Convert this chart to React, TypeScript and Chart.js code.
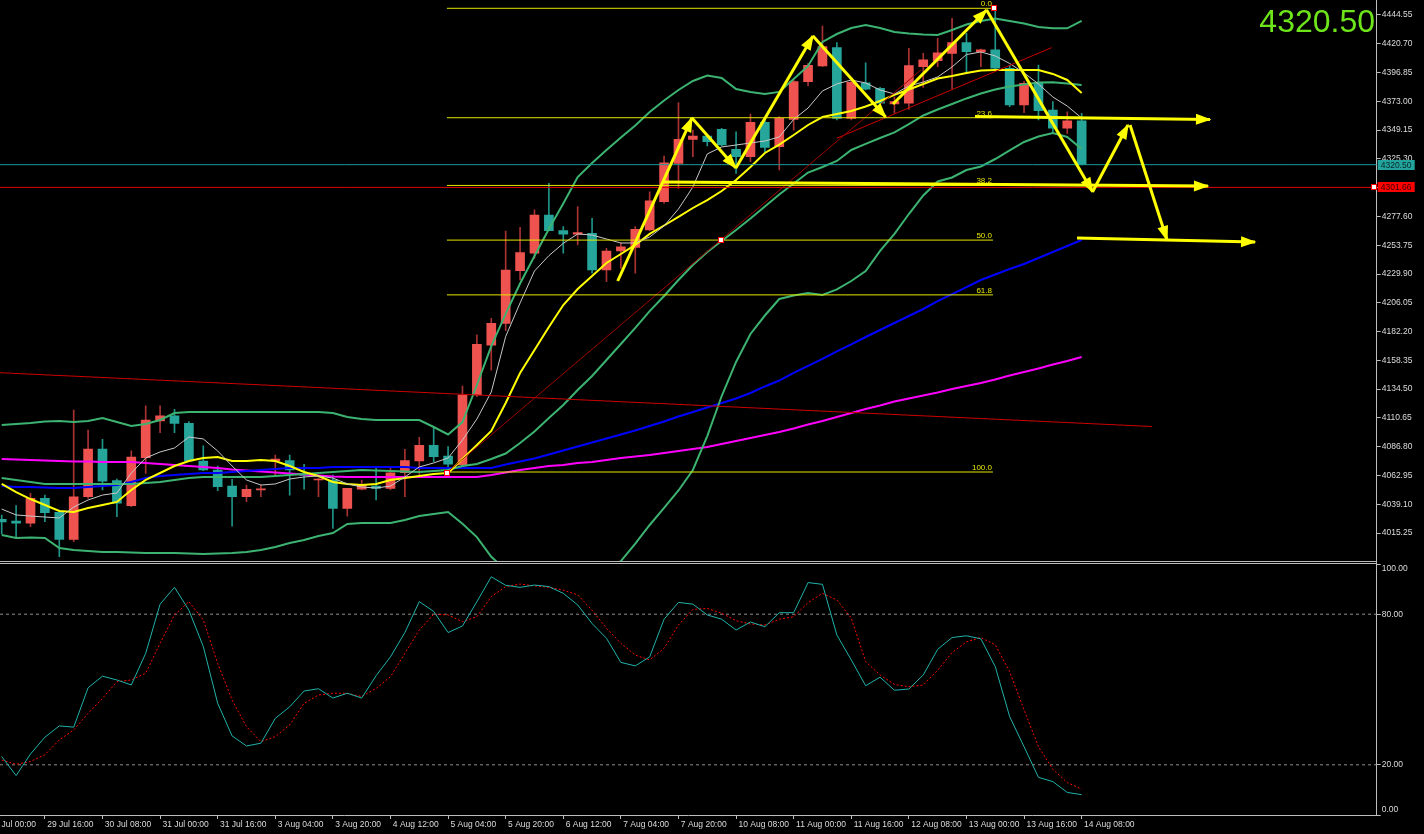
import React, { useEffect, useRef } from "react";
import { Chart, registerables } from "chart.js";

Chart.register(...registerables);

// ---------- DATA ----------
const candleOpen = [4026.6,4025.2,4023.3,4044.0,4032.4,4010.0,4045.3,4084.8,4058.6,4037.9,
4077.7,4108.1,4112.4,4106.1,4074.9,4067.5,4054.2,4045.3,4050.9,4074.9,
4075.2,4064.0,4059.2,4059.2,4035.7,4051.5,4054.2,4052.3,4065.2,4074.9,
4087.9,4078.9,4071.6,4129.6,4171.0,4189.0,4232.6,4247.1,4278.8,4265.8,
4263.0,4263.6,4233.2,4249.0,4252.0,4266.4,4289.8,4321.6,4341.5,4344.3,
4349.8,4333.2,4327.1,4355.6,4335.4,4358.1,4389.3,4402.3,4417.5,4358.9,
4388.4,4383.8,4370.8,4371.4,4401.7,4406.7,4412.8,4421.6,4414.1,4415.6,
4400.4,4370.0,4387.9,4365.8,4350.7,4356.9];
const candleHigh = [4030.1,4037.9,4048.1,4046.7,4034.3,4117.2,4100.6,4092.9,4060.0,4083.4,
4120.7,4120.7,4117.8,4107.5,4087.6,4070.8,4059.7,4055.0,4055.0,4079.9,
4079.9,4072.2,4060.7,4063.3,4052.3,4059.2,4068.9,4070.2,4084.6,4094.6,
4103.3,4086.8,4137.0,4179.4,4193.2,4265.5,4268.6,4283.0,4305.1,4269.1,
4285.7,4276.0,4251.2,4255.8,4269.1,4298.1,4327.7,4371.9,4349.2,4345.9,
4350.6,4347.8,4362.5,4357.5,4360.3,4390.6,4404.5,4435.4,4421.6,4390.6,
4405.0,4384.6,4376.8,4417.0,4412.8,4425.2,4441.8,4429.4,4416.4,4450.1,
4403.1,4389.3,4403.1,4372.7,4364.4,4363.1];
const candleLow = [4014.4,4010.9,4020.5,4024.6,3995.6,4008.0,4044.0,4050.9,4028.8,4037.1,
4064.7,4098.4,4098.4,4074.3,4067.0,4050.3,4021.0,4041.2,4045.3,4063.3,
4046.7,4051.5,4045.3,4019.1,4029.3,4050.9,4042.6,4050.9,4045.3,4061.9,
4074.3,4067.5,4070.2,4128.2,4150.3,4182.9,4224.9,4242.9,4265.8,4247.1,
4253.9,4230.5,4223.5,4234.6,4230.5,4265.8,4288.5,4300.9,4327.1,4336.0,
4336.0,4313.3,4323.0,4331.3,4316.1,4349.2,4385.7,4401.7,4357.5,4357.5,
4382.5,4368.5,4363.1,4366.4,4384.6,4401.7,4383.0,4396.7,4401.7,4399.0,
4368.5,4363.6,4357.5,4346.5,4346.5,4320.2];
const candleClose = [4024.4,4023.3,4044.0,4032.1,4010.0,4045.3,4084.8,4058.3,4039.9,4078.2,
4108.9,4112.4,4106.1,4074.9,4067.5,4053.6,4045.3,4051.5,4051.8,4076.6,
4067.5,4062.9,4060.0,4035.7,4052.3,4055.0,4052.3,4065.2,4075.2,4087.9,
4078.5,4072.4,4129.6,4171.6,4189.0,4233.2,4247.6,4278.8,4265.8,4263.0,
4264.2,4233.2,4249.0,4252.5,4267.0,4290.6,4322.1,4341.5,4344.3,4339.6,
4336.8,4327.1,4355.6,4334.9,4358.9,4389.3,4402.9,4418.3,4358.9,4388.8,
4383.0,4371.4,4372.7,4402.6,4407.3,4413.3,4421.6,4414.1,4415.6,4400.4,
4370.0,4387.9,4365.2,4350.7,4356.9,4320.5];

const maFast = [4035.1,4030.2,4029.3,4028.5,4027.7,4036.8,4042.6,4046.7,4048.4,4064.9,
4077.4,4082.4,4085.7,4094.8,4093.2,4083.2,4070.8,4059.2,4055.0,4055.9,
4060.0,4061.7,4062.5,4060.8,4055.9,4053.4,4052.5,4054.2,4061.7,4070.0,
4073.3,4077.4,4092.3,4109.7,4132.1,4178.1,4205.9,4232.4,4245.1,4255.3,
4263.1,4262.2,4258.9,4255.6,4255.6,4260.6,4269.7,4283.8,4302.0,4329.4,
4335.2,4336.8,4338.5,4340.1,4343.5,4358.0,4367.5,4381.6,4387.4,4390.7,
4388.2,4382.4,4379.1,4385.7,4389.0,4393.2,4401.5,4411.8,4413.9,4410.6,
4404.4,4396.5,4387.4,4376.6,4369.1,4359.2];
const maYellow = [4055.9,4049.2,4043.4,4038.5,4033.5,4032.6,4036.0,4038.5,4041.0,4050.9,
4059.2,4065.0,4070.8,4074.9,4077.4,4078.2,4074.9,4074.9,4075.7,4074.9,
4070.8,4065.8,4062.5,4057.5,4055.9,4055.0,4055.9,4059.2,4060.8,4062.5,
4064.1,4065.0,4076.6,4088.2,4099.8,4123.0,4147.9,4166.9,4186.0,4204.2,
4217.5,4228.3,4239.0,4246.5,4254.0,4263.1,4270.1,4277.2,4284.6,4291.2,
4298.7,4307.8,4318.6,4330.2,4337.2,4345.1,4353.4,4360.0,4362.5,4365.0,
4368.7,4373.3,4378.3,4382.8,4387.4,4391.9,4394.0,4396.5,4398.6,4399.0,
4399.0,4399.0,4399.0,4395.7,4390.7,4379.9];
const maBlue = [4054.2,4053.4,4053.4,4053.0,4052.5,4052.5,4053.4,4054.2,4055.0,4057.5,
4060.8,4062.5,4063.3,4064.1,4064.9,4064.9,4065.8,4066.6,4067.5,4068.3,
4069.1,4069.1,4069.1,4069.9,4069.9,4069.9,4069.9,4069.9,4069.9,4069.1,
4069.1,4069.1,4069.1,4069.1,4069.1,4072.0,4074.5,4077.0,4080.3,4083.6,
4087.0,4090.3,4093.6,4096.9,4100.2,4103.9,4107.7,4111.8,4115.5,4119.3,
4123.0,4126.7,4131.3,4136.7,4141.6,4147.9,4153.7,4159.5,4165.7,4171.5,
4177.7,4183.5,4189.3,4195.1,4200.9,4207.5,4213.3,4219.1,4224.9,4229.5,
4234.0,4238.2,4243.2,4248.1,4253.1,4258.1];
const maMagenta = [4076.6,4076.2,4075.7,4075.3,4074.9,4074.5,4074.5,4074.1,4074.1,4074.1,
4073.3,4072.4,4071.6,4070.8,4070.0,4069.1,4067.9,4067.1,4066.2,4065.4,
4064.6,4063.7,4062.9,4062.1,4061.7,4061.7,4061.7,4061.7,4061.7,4061.7,
4061.7,4061.7,4061.7,4061.7,4063.3,4065.4,4067.5,4069.1,4070.8,4071.6,
4073.3,4074.1,4075.7,4077.4,4078.6,4079.9,4081.5,4083.2,4084.9,4086.5,
4089.0,4091.5,4094.0,4096.5,4099.0,4101.9,4105.2,4108.1,4111.4,4114.7,
4118.0,4120.9,4124.2,4126.7,4129.2,4131.7,4134.6,4137.1,4139.6,4142.5,
4145.8,4148.7,4151.6,4154.9,4157.8,4161.1];
const bbUpper = [4104.8,4105.6,4106.4,4107.7,4108.1,4107.2,4108.1,4110.6,4107.2,4103.9,
4105.6,4108.9,4114.7,4115.5,4115.5,4115.5,4115.5,4115.5,4115.5,4115.5,
4115.5,4115.5,4115.5,4114.7,4111.4,4109.7,4108.9,4108.9,4108.9,4108.9,
4103.1,4096.9,4107.2,4137.9,4170.2,4196.8,4222.0,4244.8,4267.2,4288.3,
4310.3,4321.9,4332.7,4343.0,4353.0,4364.2,4373.7,4382.4,4389.9,4394.4,
4392.4,4383.2,4380.8,4379.1,4380.8,4391.5,4402.3,4422.2,4428.8,4433.8,
4436.3,4433.8,4430.5,4429.2,4428.4,4428.0,4432.1,4436.7,4439.6,4441.7,
4439.6,4437.5,4434.6,4433.5,4433.5,4439.6];
const bbMiddle = [4060.8,4059.2,4057.5,4055.9,4055.9,4055.9,4055.9,4055.9,4055.9,4055.9,
4056.7,4057.5,4059.2,4060.8,4061.7,4061.7,4061.7,4061.7,4061.7,4062.5,
4063.3,4064.1,4065.0,4065.8,4066.6,4067.5,4067.1,4066.6,4066.2,4065.8,
4066.6,4067.5,4070.8,4072.4,4076.6,4081.1,4089.8,4099.4,4110.6,4121.3,
4133.8,4145.4,4158.6,4171.9,4185.2,4199.2,4211.7,4224.9,4237.4,4248.1,
4257.3,4266.4,4275.9,4285.9,4295.8,4304.9,4314.0,4318.6,4323.6,4332.7,
4337.7,4342.6,4347.2,4354.2,4361.3,4366.2,4370.8,4375.4,4379.5,4382.8,
4385.3,4387.0,4388.6,4388.9,4387.8,4386.6];
const bbLower = [4013.6,4011.1,4011.5,4011.1,4002.8,4001.2,4000.3,3999.5,3999.5,3999.1,
3998.7,3998.7,3998.7,3998.3,3997.8,3998.3,3998.7,3999.5,4001.2,4003.6,
4006.9,4009.5,4012.8,4015.2,4022.7,4023.5,4023.5,4023.5,4026.0,4029.3,
4031.0,4032.6,4023.0,4011.9,3995.6,3984.6,3972.2,3963.9,3959.7,3957.2,
3959.7,3968.0,3980.4,3992.0,4006.5,4021.9,4036.0,4050.5,4067.5,4095.6,
4128.8,4157.0,4180.2,4195.5,4209.2,4212.1,4214.2,4212.5,4217.1,4224.1,
4232.4,4249.0,4263.1,4279.6,4295.0,4306.6,4309.9,4316.1,4319.0,4325.2,
4332.3,4339.3,4343.9,4346.8,4343.5,4333.5];

const stochK = [23.3,15.7,24.3,31.0,35.5,35.0,50.7,55.3,53.8,51.8,
64.4,84.0,90.7,81.6,67.1,44.5,31.5,27.5,28.6,38.5,
43.1,49.4,50.3,46.6,48.5,46.6,55.5,63.0,72.7,85.0,
81.1,72.7,75.3,85.0,94.9,91.5,90.7,91.6,91.0,88.3,
83.7,76.3,70.4,60.8,59.4,63.0,78.0,84.7,84.0,79.7,
78.0,73.7,76.9,75.0,80.6,80.6,92.6,91.9,71.7,61.8,
51.5,54.9,49.7,50.2,55.8,66.0,70.7,71.4,70.2,59.1,
39.2,27.2,15.0,13.3,9.0,8.1];
const stochD = [21.9,20.2,21.3,24.0,29.9,33.9,40.5,46.5,53.1,53.8,
56.5,68.4,79.7,85.0,77.7,60.4,45.8,35.2,29.2,31.2,
35.9,44.5,47.8,48.5,48.5,47.2,50.4,55.1,64.4,73.7,
80.0,79.7,77.0,79.0,87.0,91.0,92.0,91.3,90.7,89.6,
87.7,81.6,74.4,68.4,63.7,61.8,66.4,75.7,81.9,82.3,
80.4,77.4,76.1,75.7,78.0,79.0,84.6,88.3,85.7,78.4,
61.1,55.8,52.0,51.1,51.8,57.7,64.7,69.0,70.7,67.8,
57.1,41.9,27.2,18.2,12.9,10.3];

const priceTicks = [4444.55,4420.70,4396.85,4373.00,4349.15,4325.30,4301.45,4277.60,4253.75,4229.90,
4206.05,4182.20,4158.35,4134.50,4110.65,4086.80,4062.95,4039.10,4015.25];
const oscTicks = [0, 20, 80, 100];
const oscLevels = [20, 80];
const timeTickIdx = [-1,3,7,11,15,19,23,27,31,35,39,43,47,51,55,59,63,67,71,75];
const timeTickLabels = ["29 Jul 00:00","29 Jul 16:00","30 Jul 08:00","31 Jul 00:00","31 Jul 16:00","3 Aug 04:00",
"3 Aug 20:00","4 Aug 12:00","5 Aug 04:00","5 Aug 20:00","6 Aug 12:00","7 Aug 04:00","7 Aug 20:00",
"10 Aug 08:00","11 Aug 00:00","11 Aug 16:00","12 Aug 08:00","13 Aug 00:00","13 Aug 16:00","14 Aug 08:00"];

const fibLabels = ["0.0","23.6","38.2","50.0","61.8","100.0"];
const fibPrices = [4450.1,4359.4,4303.3,4258.0,4212.6,4065.8];
const fibStartIdx = 30.92;
const fibEndIdx = 68.84;

const trendStartX = [-0.12, 30.90, 57.99];
const trendStartY = [4148.1, 4065.2, 4342.4];
const trendEndX = [79.88, 63.84, 72.92];
const trendEndY = [4103.5, 4399.0, 4417.5];

const arrowStartX = [42.78,47.94,50.99,56.34,61.90,68.40,75.76,78.36,67.59,45.92,74.68];
const arrowStartY = [4224.1,4359.2,4317.8,4427.2,4370.8,4448.7,4298.1,4353.4,4360.4,4306.2,4259.7];
const arrowEndX = [47.94,50.99,56.34,61.39,68.40,75.76,78.22,80.93,83.91,83.77,87.04];
const arrowEndY = [4359.2,4317.8,4427.2,4360.0,4448.7,4298.1,4353.4,4258.1,4358.0,4302.8,4256.4];

const markerX = [30.90, 49.95, 68.93, 95.3];
const markerY = [4065.2, 4257.8, 4450.1, 4301.66];

const currentPrice = 4320.50;
const supportLevel = 4301.66;

// ---------- STYLE ----------
const FONT = '"Liberation Sans", Arial, sans-serif';
const AXIS_COLOR = "#bdbdbd";
const TEXT_COLOR = "#dcdcdc";
const UP_BODY = "#ef5350";
const DOWN_BODY = "#26a69a";
const UP_WICK = "#a83232";
const DOWN_WICK = "#1f9488";
const BAND = "#3cb371";
const YELLOW = "#ffff00";
const FIB = "#e6e600";
const TEAL_LINE = "#1a9a9a";
const X_MIN = -0.118;
const X_MAX = 95.49;
const Y_MIN = 3992.05;
const Y_MAX = 4456.98;
const AXIS_W = 47.3;

const series = (vals: number[], color: string, width: number, order: number, dash: number[] = []) => ({
  type: "line" as const,
  data: vals.map((v, i) => ({ x: i, y: v })),
  borderColor: color,
  borderWidth: width,
  borderDash: dash,
  pointRadius: 0,
  tension: 0,
  fill: false,
  order,
});

const seg = (x1: number, y1: number, x2: number, y2: number, color: string, width: number, order: number, dash: number[] = []) => ({
  type: "line" as const,
  data: [{ x: x1, y: y1 }, { x: x2, y: y2 }],
  borderColor: color,
  borderWidth: width,
  borderDash: dash,
  pointRadius: 0,
  tension: 0,
  fill: false,
  order,
});

const priceOverlay = {
  id: "priceOverlay",
  afterDatasetsDraw(chart: any) {
    const { ctx, scales } = chart;
    const xs = scales.x;
    const ys = scales.y;
    ctx.save();
    ctx.fillStyle = YELLOW;
    for (let k = 0; k < arrowEndX.length; k++) {
      const x1 = xs.getPixelForValue(arrowStartX[k]);
      const y1 = ys.getPixelForValue(arrowStartY[k]);
      const x2 = xs.getPixelForValue(arrowEndX[k]);
      const y2 = ys.getPixelForValue(arrowEndY[k]);
      const a = Math.atan2(y2 - y1, x2 - x1);
      const L = 14;
      const W = 5.5;
      const bx = x2 - L * Math.cos(a);
      const by = y2 - L * Math.sin(a);
      ctx.beginPath();
      ctx.moveTo(x2 + 1.5 * Math.cos(a), y2 + 1.5 * Math.sin(a));
      ctx.lineTo(bx + W * Math.sin(a), by - W * Math.cos(a));
      ctx.lineTo(bx - W * Math.sin(a), by + W * Math.cos(a));
      ctx.closePath();
      ctx.fill();
    }
    ctx.font = `8px ${FONT}`;
    ctx.textAlign = "right";
    ctx.textBaseline = "alphabetic";
    ctx.fillStyle = FIB;
    fibPrices.forEach((p, k) => {
      ctx.fillText(fibLabels[k], xs.getPixelForValue(fibEndIdx) - 1, ys.getPixelForValue(p) - 2);
    });
    markerX.forEach((mx, k) => {
      const px = Math.round(xs.getPixelForValue(mx));
      const py = Math.round(ys.getPixelForValue(markerY[k]));
      ctx.fillStyle = "#ff0000";
      ctx.fillRect(px - 3, py - 3, 6, 6);
      ctx.fillStyle = "#ffffff";
      ctx.fillRect(px - 2, py - 2, 4, 4);
    });
    ctx.restore();
  },
  afterDraw(chart: any) {
    const { ctx, scales, chartArea } = chart;
    const ys = scales.y;
    ctx.save();
    const tag = (price: number, bg: string, fg: string) => {
      const py = Math.round(ys.getPixelForValue(price));
      ctx.fillStyle = bg;
      ctx.fillRect(chartArea.right + 1, py - 5, 37, 10);
      ctx.fillStyle = fg;
      ctx.font = `8.5px ${FONT}`;
      ctx.textAlign = "left";
      ctx.textBaseline = "middle";
      ctx.fillText(price.toFixed(2), chartArea.right + 4, py + 0.5);
    };
    tag(currentPrice, "#22a49c", "#062424");
    tag(supportLevel, "#ff0000", "#3a0000");
    ctx.restore();
  },
};

// edge labels of the oscillator axis sit inside the panel, as in the terminal
const oscOverlay = {
  id: "oscOverlay",
  afterDraw(chart: any) {
    const { ctx, chartArea } = chart;
    ctx.save();
    ctx.font = `8.5px ${FONT}`;
    ctx.fillStyle = TEXT_COLOR;
    ctx.textAlign = "left";
    ctx.textBaseline = "middle";
    const hi = oscTicks[oscTicks.length - 1];
    const lo = oscTicks[0];
    ctx.fillText(hi.toFixed(2), chartArea.right + 5, chartArea.top + 4.5);
    ctx.fillText(lo.toFixed(2), chartArea.right + 5, chartArea.bottom - 5);
    ctx.restore();
  },
};

export default function App() {
  const priceRef = useRef<HTMLCanvasElement>(null);
  const oscRef = useRef<HTMLCanvasElement>(null);

  useEffect(() => {
    Chart.defaults.font.family = FONT;
    const up = candleClose.map((c, i) => c >= candleOpen[i]);
    const datasets: any[] = [
      {
        type: "bar",
        data: candleLow.map((l, i) => ({ x: i, y: [l, candleHigh[i]] })),
        backgroundColor: up.map((u) => (u ? UP_WICK : DOWN_WICK)),
        barThickness: 1,
        grouped: false,
        borderWidth: 0,
        order: 30,
      },
      {
        type: "bar",
        data: candleOpen.map((o, i) => ({ x: i, y: [o, candleClose[i]] })),
        backgroundColor: up.map((u) => (u ? UP_BODY : DOWN_BODY)),
        barThickness: 9,
        minBarLength: 1,
        grouped: false,
        borderWidth: 0,
        order: 29,
      },
      series(maMagenta, "#ff00ff", 2, 20),
      series(maBlue, "#0000ff", 2, 19),
      series(bbLower, BAND, 2, 18),
      series(bbMiddle, BAND, 2, 17),
      series(bbUpper, BAND, 2, 16),
      series(maYellow, YELLOW, 2, 15),
      series(maFast, "#c8c8c8", 1, 14),
      seg(X_MIN, currentPrice, X_MAX, currentPrice, TEAL_LINE, 1, 13),
      seg(X_MIN, supportLevel, X_MAX, supportLevel, "#e00000", 1, 12),
      ...trendStartX.map((sx, k) =>
        seg(sx, trendStartY[k], trendEndX[k], trendEndY[k], ["#cc0000", "#a00000", "#c80000"][k], 1, 11)
      ),
      ...fibPrices.map((p) => seg(fibStartIdx, p, fibEndIdx, p, FIB, 1, 10)),
      ...arrowStartX.map((sx, k) => seg(sx, arrowStartY[k], arrowEndX[k], arrowEndY[k], YELLOW, 3, 1)),
    ];

    const priceChart = new Chart(priceRef.current!, {
      type: "line",
      data: { datasets },
      options: {
        animation: false,
        responsive: false,
        events: [],
        layout: { padding: 0 },
        plugins: { legend: { display: false }, tooltip: { enabled: false } },
        scales: {
          x: { type: "linear", display: false, min: X_MIN, max: X_MAX, offset: false },
          y: {
            type: "linear",
            position: "right",
            min: Y_MIN,
            max: Y_MAX,
            afterBuildTicks: (s: any) => {
              s.ticks = priceTicks.map((v) => ({ value: v }));
            },
            afterFit: (s: any) => {
              s.width = AXIS_W;
              s.paddingTop = 0;
              s.paddingBottom = 0;
            },
            ticks: {
              color: TEXT_COLOR,
              font: { size: 8.5, family: FONT },
              padding: 1,
              autoSkip: false,
              callback: (v: any) => Number(v).toFixed(2),
            },
            grid: { drawOnChartArea: false, drawTicks: true, tickLength: 4, color: AXIS_COLOR },
            border: { color: AXIS_COLOR, width: 1 },
          },
        },
      } as any,
      plugins: [priceOverlay],
    } as any);

    const oscChart = new Chart(oscRef.current!, {
      type: "line",
      data: {
        datasets: [
          ...oscLevels.map((lv) => seg(X_MIN, lv, X_MAX, lv, "#8c8c8c", 1, 5, [3, 3])),
          series(stochD, "#ff0000", 1, 2, [2, 2]),
          series(stochK, "#20b2aa", 1, 1),
        ],
      },
      options: {
        animation: false,
        responsive: false,
        events: [],
        layout: { padding: 0 },
        plugins: { legend: { display: false }, tooltip: { enabled: false } },
        scales: {
          x: {
            type: "linear",
            position: "bottom",
            min: X_MIN,
            max: X_MAX,
            offset: false,
            afterBuildTicks: (s: any) => {
              s.ticks = timeTickIdx.map((v) => ({ value: v }));
            },
            afterFit: (s: any) => {
              s.height = 19;
              s.paddingLeft = 0;
              s.paddingRight = 0;
            },
            ticks: {
              color: TEXT_COLOR,
              font: { size: 8.5, family: FONT },
              align: "start",
              maxRotation: 0,
              minRotation: 0,
              autoSkip: false,
              padding: 1,
              callback: (v: any) => {
                const k = timeTickIdx.indexOf(Number(v));
                return k >= 0 ? " " + timeTickLabels[k] : "";
              },
            },
            grid: { drawOnChartArea: false, drawTicks: true, tickLength: 4, color: AXIS_COLOR },
            border: { color: AXIS_COLOR, width: 1 },
          },
          y: {
            type: "linear",
            position: "right",
            min: oscTicks[0],
            max: oscTicks[oscTicks.length - 1],
            afterBuildTicks: (s: any) => {
              s.ticks = oscTicks.map((v) => ({ value: v }));
            },
            afterFit: (s: any) => {
              s.width = AXIS_W;
              s.paddingTop = 0;
              s.paddingBottom = 0;
            },
            ticks: {
              color: TEXT_COLOR,
              font: { size: 8.5, family: FONT },
              padding: 1,
              autoSkip: false,
              callback: (v: any) => {
                const n = Number(v);
                return n === oscTicks[0] || n === oscTicks[oscTicks.length - 1] ? "" : n.toFixed(2);
              },
            },
            grid: { drawOnChartArea: false, drawTicks: true, tickLength: 4, color: AXIS_COLOR },
            border: { color: AXIS_COLOR, width: 1 },
          },
        },
      } as any,
      plugins: [oscOverlay],
    } as any);

    return () => {
      priceChart.destroy();
      oscChart.destroy();
    };
  }, []);

  return (
    <div style={{ position: "fixed", left: 0, top: 0, width: 1424, height: 834, background: "#000", overflow: "hidden" }}>
      <canvas ref={priceRef} width={1424} height={561} style={{ position: "absolute", left: 0, top: 0, width: 1424, height: 561 }} />
      <div style={{ position: "absolute", left: 0, top: 561, width: 1377, height: 1, background: AXIS_COLOR }} />
      <div style={{ position: "absolute", left: 0, top: 563, width: 1377, height: 1, background: AXIS_COLOR }} />
      <div style={{ position: "absolute", left: 1376, top: 561, width: 1, height: 3, background: AXIS_COLOR }} />
      <canvas ref={oscRef} width={1424} height={270} style={{ position: "absolute", left: 0, top: 564, width: 1424, height: 270 }} />
      <div
        style={{
          position: "absolute",
          right: 49,
          top: 5,
          color: "#6ee51a",
          fontFamily: FONT,
          fontSize: 32,
          lineHeight: "32px",
          whiteSpace: "nowrap",
        }}
      >
        {candleClose[candleClose.length - 1].toFixed(2)}
      </div>
    </div>
  );
}
